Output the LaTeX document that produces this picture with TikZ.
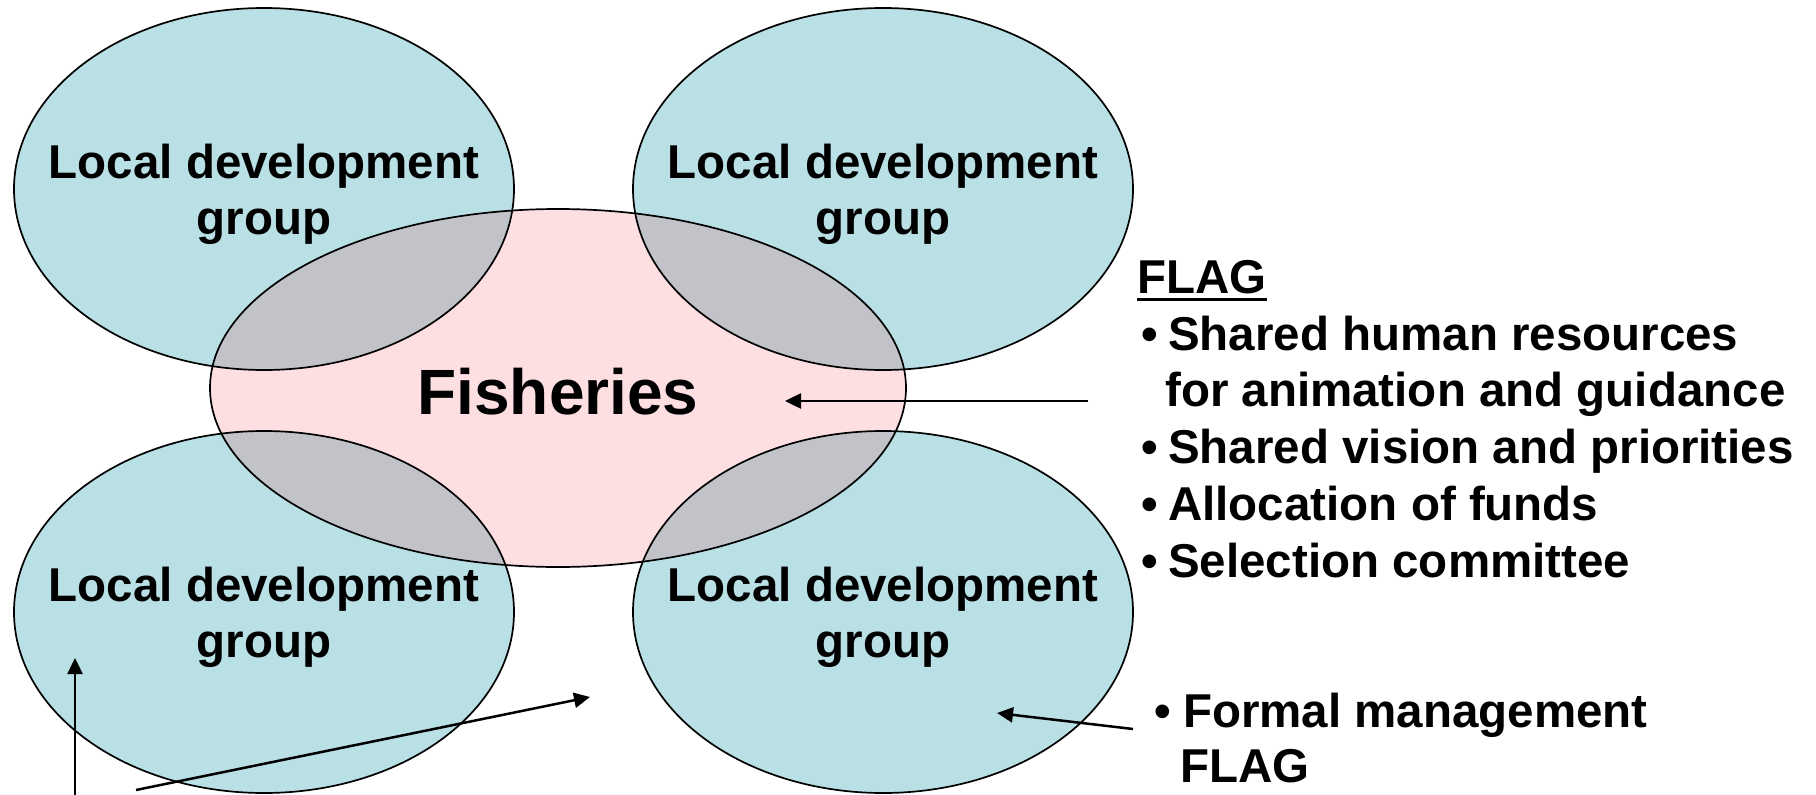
\documentclass[tikz,border=0pt]{standalone}
\usepackage{fontspec}
\setmainfont{Liberation Sans}
\usetikzlibrary{shapes.geometric,arrows.meta}
\definecolor{ldgblue}{RGB}{185,224,228}
\definecolor{fishpink}{RGB}{253,223,226}
\definecolor{overgray}{RGB}{194,195,200}
\begin{document}
\begin{tikzpicture}[x=1pt,y=-1pt,
  ldg/.style={ellipse, fill=ldgblue, minimum width=500pt, minimum height=362pt, inner sep=0pt, outer sep=0pt},
  fish/.style={ellipse, fill=fishpink, minimum width=696pt, minimum height=358pt, inner sep=0pt, outer sep=0pt},
  outline/.style={draw=black, line width=1.7pt},
  grptext/.style={anchor=base, inner sep=0pt, font=\fontsize{47.5}{56}\selectfont\bfseries},
  fishtext/.style={anchor=base, inner sep=0pt, font=\fontsize{64}{76}\selectfont\bfseries},
  item/.style={anchor=base west, inner sep=0pt, font=\fontsize{47.5}{57}\selectfont\bfseries},
  pointer/.style={line width=2.5pt, -{Triangle[length=16pt,width=15pt]}}
]
\useasboundingbox (0,0) rectangle (1816,795);
\fill[white] (0,0) rectangle (1816,795);

% group ellipses and the fisheries ellipse
\foreach \n/\cx/\cy in {tl/264/189, tr/883/189, bl/264/612, br/883/612}
  \node[ldg] (\n) at (\cx,\cy) {};
\node[fish] (fish) at (558,388) {};

% overlaps
\begin{scope}
  \clip (fish.center) ellipse [x radius=348pt, y radius=179pt];
  \foreach \n in {tl,tr,bl,br}
    \fill[overgray] (\n.center) ellipse [x radius=250pt, y radius=181pt];
\end{scope}

% outlines
\foreach \n in {tl,tr,bl,br}
  \draw[outline] (\n.center) ellipse [x radius=250pt, y radius=181pt];
\draw[outline] (fish.center) ellipse [x radius=348pt, y radius=179pt];

% group labels
\foreach \n/\cx/\cy in {tl/264/189, tr/883/189, bl/264/612, br/883/612}{
  \node[grptext] (\n a) at (\cx,\cy-11) {Local development};
  \node[grptext] (\n b) at (\cx,\cy+45) {group};
}
\node[fishtext] (fishlabel) at (558,414) {Fisheries};

% FLAG block
\node[item] (flag) at (1137,293) {FLAG};
\draw[line width=3.5pt] ([yshift=-6.5pt]flag.base west) -- ([yshift=-6.5pt]flag.base east);
\node[item] (f1) at (1141,350) {\makebox[27pt][l]{•}Shared human resources};
\node[item] (f1b) at (1165,406) {for animation and guidance};
\node[item] (f2) at (1141,463) {\makebox[27pt][l]{•}Shared vision and priorities};
\node[item] (f3) at (1141,520) {\makebox[27pt][l]{•}Allocation of funds};
\node[item] (f4) at (1141,577) {\makebox[27pt][l]{•}Selection committee};

\node[item] (fm) at (1154,727) {\makebox[29pt][l]{•}Formal management};
\node[item] (fm2) at (1180,782) {FLAG};

% arrows
\coordinate (p1s) at (1088,401);
\coordinate (p1e) at (785,401);
\draw[pointer] (p1s) -- (p1e);

\coordinate (p2s) at (1133,729);
\coordinate (p2e) at (997,713);
\draw[pointer] (p2s) -- (p2e);

\coordinate (p3s) at (75,796);
\coordinate (p3e) at (75,658);
\draw[pointer] (p3s) -- (p3e);

\coordinate (p4s) at (136,790);
\coordinate (p4e) at (590,697);
\draw[pointer] (p4s) -- (p4e);
\end{tikzpicture}
\end{document}
